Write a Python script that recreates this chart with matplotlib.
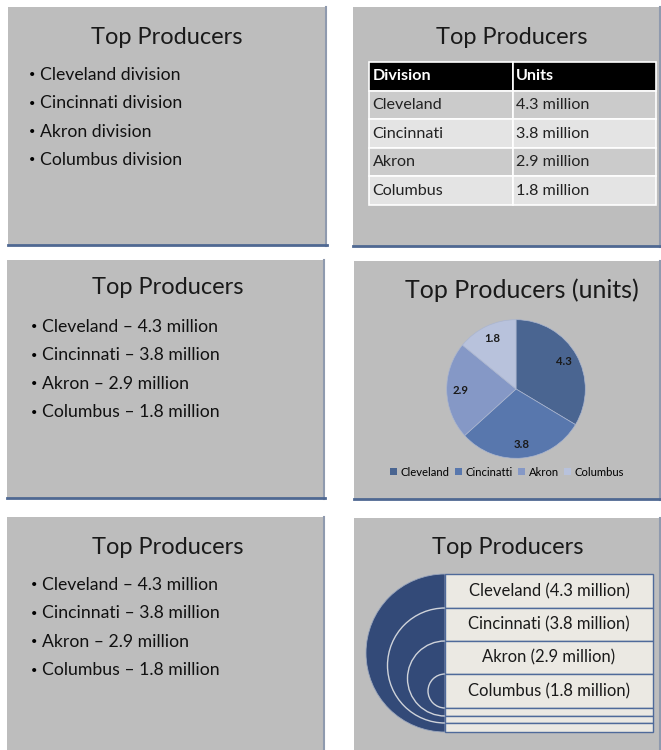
import matplotlib
matplotlib.use('Agg')
import matplotlib.pyplot as plt
from matplotlib.patches import Rectangle, Wedge, Arc

plt.rcParams['font.family'] = ['Lato', 'DejaVu Sans']

# data
title = 'Top Producers'
divisions = ['Cleveland', 'Cincinnati', 'Akron', 'Columbus']
legend_names = ['Cleveland', 'Cincinatti', 'Akron', 'Columbus']
units = [4.3, 3.8, 2.9, 1.8]
table_header = ['Division', 'Units']
pie_colors = ['#4a6591', '#5877ad', '#8598c6', '#b8c2dc']

W, H = 661, 750
fig = plt.figure(figsize=(W / 100, H / 100), dpi=100)
fig.patch.set_facecolor('white')
base = fig.add_axes([0, 0, 1, 1])
base.set_xlim(0, W)
base.set_ylim(H, 0)
base.axis('off')


def sub_axes(x0, y0, x1, y1):
    return fig.add_axes([x0 / W, 1 - y1 / H, (x1 - x0) / W, (y1 - y0) / H])


# slide backgrounds
slides = [(8, 7, 327, 246), (353, 7, 661, 247), (7, 260, 325, 499),
          (354, 261, 661, 500), (7, 517, 325, 752), (354, 518, 661, 752)]
for x0, y0, x1, y1 in slides:
    base.add_patch(Rectangle((x0, y0), x1 - x0, y1 - y0, fc='#bdbdbd', ec='none'))
    base.plot([x1 - 1, x1 - 1], [y0, y1], color='#8f9aae', lw=1.5)
    base.plot([x0, x1], [y1 - 1, y1 - 1], color='#4f6892', lw=2)

title_fs = 17
body_fs = 12.7
dot_fs = 8

# slide 1 - plain bullets
base.text(167, 37, title, fontsize=title_fs, ha='center', va='center', color='#1a1a1a')
for i, d in enumerate(divisions):
    y = 75 + i * 28.3
    base.text(32, y, '•', fontsize=dot_fs, ha='center', va='center')
    base.text(40, y, d + ' division', fontsize=body_fs, va='center', color='#111111')

# slide 3 and 5 - bullets with values
for ty, ly in [(288, 327), (547, 585)]:
    base.text(168, ty, title, fontsize=title_fs, ha='center', va='center', color='#1a1a1a')
    for i, (d, u) in enumerate(zip(divisions, units)):
        y = ly + i * 28.4
        base.text(34, y, '•', fontsize=dot_fs, ha='center', va='center')
        base.text(42, y, f'{d} – {u} million', fontsize=body_fs, va='center', color='#111111')

# slide 2 - table
base.text(512, 37, title, fontsize=title_fs, ha='center', va='center', color='#1a1a1a')
tax = sub_axes(369, 62, 656, 205)
tax.axis('off')
rows = [[d, f'{u} million'] for d, u in zip(divisions, units)]
tbl = tax.table(cellText=rows, colLabels=table_header, cellLoc='left', colLoc='left',
                bbox=[0, 0, 1, 1])
tbl.auto_set_font_size(False)
for (r, c), cell in tbl.get_celld().items():
    cell.PAD = 0.025
    cell.set_edgecolor('white')
    cell.set_linewidth(1.2)
    cell.get_text().set_fontsize(11.6)
    if r == 0:
        cell.set_facecolor('black')
        cell.get_text().set_color('white')
        cell.get_text().set_fontweight('bold')
    else:
        cell.set_facecolor('#cbcbcb' if r % 2 == 1 else '#e4e4e4')
        cell.get_text().set_color('#222222')

# slide 4 - pie
base.text(522, 290, 'Top Producers (units)', fontsize=18, ha='center', va='center',
          color='#1a1a1a')
pax = sub_axes(516 - 70, 389 - 70, 516 + 70, 389 + 70)
total = sum(units)
pax.pie(units, colors=pie_colors, startangle=90, counterclock=False,
        autopct=lambda p: f'{p * total / 100:.1f}', pctdistance=0.8,
        wedgeprops=dict(linewidth=0.5, edgecolor='#aab5cf'),
        textprops=dict(fontsize=8.2, fontweight='bold', color='#1a1a1a'))
pax.set_xlim(-1.01, 1.01)
pax.set_ylim(-1.01, 1.01)
pax.set_aspect('equal')
handles = [Rectangle((0, 0), 1, 1, fc=c) for c in pie_colors]
fig.legend(handles, legend_names, loc='center', bbox_to_anchor=(507 / W, 1 - 472 / H),
           ncol=4, frameon=False, fontsize=8.1, handlelength=0.65, handleheight=0.65,
           handletextpad=0.3, columnspacing=0.45)

# slide 6 - nested arcs
base.text(508, 548, title, fontsize=title_fs, ha='center', va='center', color='#1a1a1a')
cx = 445
tops = [574, 608, 641, 674]
bottoms = [732, 723, 716, 708]
box_right = 653
base.add_patch(Wedge((cx, (tops[0] + bottoms[0]) / 2), (bottoms[0] - tops[0]) / 2, 90, 270,
                     fc='#334a78', ec='#9aa6bd', lw=0.6))
for t, b in zip(tops[1:], bottoms[1:]):
    r = (b - t) / 2
    base.add_patch(Arc((cx, (t + b) / 2), 2 * r, 2 * r, theta1=90, theta2=270,
                       color='#cfd3da', lw=1.0))
edges = tops + [708] + bottoms[::-1][1:]
for y0, y1 in zip(edges[:-1], edges[1:]):
    base.add_patch(Rectangle((cx, y0), box_right - cx, y1 - y0, fc='#ebe9e3',
                             ec='#4f6a9a', lw=1.0))
for i, (d, u) in enumerate(zip(divisions, units)):
    yc = (edges[i] + edges[i + 1]) / 2
    base.text((cx + box_right) / 2, yc, f'{d} ({u} million)', fontsize=12,
              ha='center', va='center', color='#1a1a1a')

fig.savefig('out.png', dpi=100)
